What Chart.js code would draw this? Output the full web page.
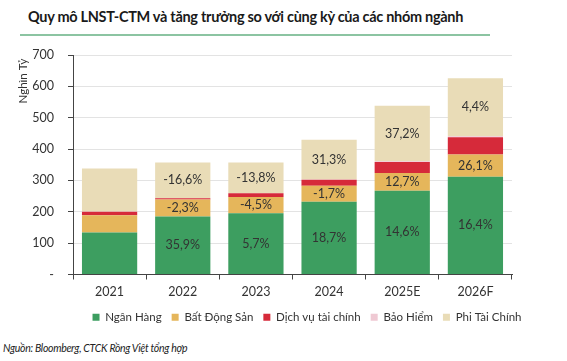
<!DOCTYPE html>
<html>
<head>
<meta charset="utf-8">
<script src="https://cdn.jsdelivr.net/npm/chart.js@4.4.1/dist/chart.umd.min.js"></script>
<style>
  html, body { margin: 0; padding: 0; background: #fff; }
  body { width: 567px; height: 361px; position: relative; overflow: hidden; font-family: Lato, "Open Sans", sans-serif; }
  #title { position: absolute; left: 28px; top: 8px; font-size: 14.5px; letter-spacing: -0.3px; font-weight: 700; color: #1a1a1a; white-space: nowrap; }
  #rule { position: absolute; left: 20px; top: 34px; width: 470px; height: 2px; background: #8cc4a2; }
  #source { position: absolute; left: 3px; top: 342px; font-size: 10.5px; letter-spacing: -0.3px; font-style: italic; color: #222; white-space: nowrap; }
  #wrap { position: absolute; left: 0; top: 0; width: 567px; height: 335px; }
</style>
</head>
<body>
<div id="title">Quy mô LNST-CTM và tăng trưởng so với cùng kỳ của các nhóm ngành</div>
<div id="rule"></div>
<div id="wrap"><canvas id="c"></canvas></div>
<div id="source">Nguồn: Bloomberg, CTCK Rồng Việt tổng hợp</div>
<script>
const categories = ['2021', '2022', '2023', '2024', '2025E', '2026F'];
const nganHang = [134, 185, 195, 232, 267, 312];
const batDongSan = [55, 54, 52, 51, 57, 71];
const dichVuTaiChinh = [11, 4, 12, 19, 35, 55];
const baoHiem = [1, 1, 1, 1, 2, 3];
const phiTaiChinh = [137, 113, 97, 127, 177, 185];
const nganHangGrowth = [null, '35,9%', '5,7%', '18,7%', '14,6%', '16,4%'];
const batDongSanGrowth = [null, '-2,3%', '-4,5%', '-1,7%', '12,7%', '26,1%'];
const phiTaiChinhGrowth = [null, '-16,6%', '-13,8%', '31,3%', '37,2%', '4,4%'];
const yTicks = [0, 100, 200, 300, 400, 500, 600, 700];

const FONT = 'Lato, "Open Sans", sans-serif';

const segLabels = {
  id: 'segLabels',
  afterDatasetsDraw(chart) {
    const ctx = chart.ctx;
    ctx.save();
    ctx.font = '12.5px ' + FONT;
    ctx.fillStyle = '#333';
    ctx.textAlign = 'center';
    ctx.textBaseline = 'middle';
    chart.data.datasets.forEach((ds, di) => {
      if (!ds.growth) return;
      const meta = chart.getDatasetMeta(di);
      meta.data.forEach((el, i) => {
        const t = ds.growth[i];
        if (!t) return;
        ctx.fillText(t, el.x, (el.y + el.base) / 2);
      });
    });
    ctx.restore();
  }
};

const yTitle = {
  id: 'yTitle',
  afterDraw(chart) {
    const ctx = chart.ctx;
    ctx.save();
    ctx.font = '11.5px ' + FONT;
    ctx.fillStyle = '#333';
    ctx.translate(23, 81);
    ctx.rotate(-Math.PI / 2);
    ctx.textAlign = 'center';
    ctx.textBaseline = 'middle';
    ctx.fillText('Nghìn Tỷ', 0, 0);
    ctx.restore();
  }
};

const legendShift = {
  id: 'legendShift',
  afterLayout(chart) {
    const lg = chart.legend;
    if (!lg) return;
    const target = 307;
    const cur = (lg.left + lg.right) / 2;
    const d = target - cur;
    lg.left += d; lg.right += d;
  }
};

const mk = (label, data, color, growth) => ({
  label, data, backgroundColor: color, borderWidth: 0,
  categoryPercentage: 1, barPercentage: 0.755, growth
});

new Chart(document.getElementById('c'), {
  type: 'bar',
  data: {
    labels: categories,
    datasets: [
      mk('Ngân Hàng', nganHang, '#3d9e60', nganHangGrowth),
      mk('Bất Động Sản', batDongSan, '#e5b65b', batDongSanGrowth),
      mk('Dịch vụ tài chính', dichVuTaiChinh, '#d62a3a', null),
      mk('Bảo Hiểm', baoHiem, '#efc9d3', null),
      mk('Phi Tài Chính', phiTaiChinh, '#e9dcb7', phiTaiChinhGrowth)
    ]
  },
  options: {
    responsive: true,
    maintainAspectRatio: false,
    animation: false,
    layout: { padding: { top: 55, right: 55, left: 0, bottom: 2 } },
    plugins: {
      legend: {
        position: 'bottom',
        labels: { boxWidth: 7, boxHeight: 7, font: { size: 11.5, family: FONT }, color: '#333', padding: 10 }
      },
      tooltip: { enabled: false }
    },
    scales: {
      x: {
        stacked: true,
        grid: { display: true, drawOnChartArea: false, tickLength: 5, tickColor: '#444', offset: true },
        border: { color: '#444', width: 1 },
        ticks: { font: { size: 12.5, family: FONT }, color: '#333', padding: 5 },
        afterFit(s) { s.height = 27; }
      },
      y: {
        stacked: true,
        min: 0, max: 700,
        afterBuildTicks(s) { s.ticks = yTicks.map(v => ({ value: v })); },
        grid: { color: '#e3e3e3', tickLength: 5, tickColor: '#444' },
        border: { color: '#444', width: 1 },
        ticks: { font: { size: 12.5, family: FONT }, color: '#333', padding: 14,
          callback: v => v === 0 ? '-' : v },
        afterFit(s) { s.width = 73; }
      }
    }
  },
  plugins: [segLabels, yTitle, legendShift]
});
</script>
</body>
</html>
